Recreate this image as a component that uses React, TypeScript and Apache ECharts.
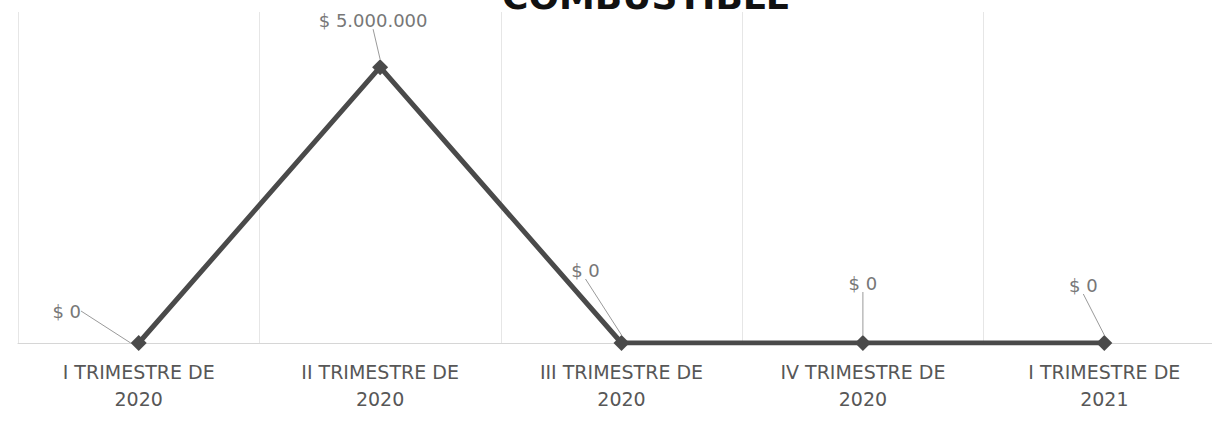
import React, { useEffect, useRef } from "react";
import * as echarts from "echarts";

const categories = [
  "I TRIMESTRE DE\n2020",
  "II TRIMESTRE DE\n2020",
  "III TRIMESTRE DE\n2020",
  "IV TRIMESTRE DE\n2020",
  "I TRIMESTRE DE\n2021",
];
const values = [0, 5000000, 0, 0, 0];
const titleText = "COMBUSTIBLE";

// label offsets (style) relative to default 'top' position
const labelShift = [
  { dx: -72, dy: -10 },
  { dx: -7, dy: -25 },
  { dx: -36, dy: -51 },
  { dx: 0, dy: -38 },
  { dx: -21, dy: -36 },
];

const fmt = (v: number) =>
  "$ " + String(Math.round(v)).replace(/\B(?=(\d{3})+(?!\d))/g, ".");

export default function App() {
  const ref = useRef<HTMLDivElement>(null);
  useEffect(() => {
    if (!ref.current) return;
    const chart = echarts.init(ref.current, undefined, { renderer: "svg" });
    chart.setOption({
      animation: false,
      backgroundColor: "#ffffff",
      title: {
        text: titleText,
        left: 497,
        top: -27,
        textStyle: {
          fontFamily: "DejaVu Sans",
          fontWeight: "bold",
          fontSize: 36,
          color: "#111111",
        },
      },
      grid: { left: 18, top: 12, right: 0, bottom: 85 },
      xAxis: {
        type: "category",
        data: categories,
        boundaryGap: true,
        axisLine: { show: true, lineStyle: { color: "#d6d6d6", width: 1 } },
        axisTick: { show: false },
        splitLine: {
          show: true,
          lineStyle: { color: "#e6e6e6", width: 1 },
        },
        axisLabel: {
          margin: 15,
          color: "#575757",
          fontFamily: "DejaVu Sans",
          fontSize: 19,
          lineHeight: 27,
          interval: 0,
        },
      },
      yAxis: {
        type: "value",
        min: 0,
        max: 6000000,
        show: false,
        splitLine: { show: false },
      },
      series: [
        {
          type: "line",
          data: values,
          symbol: "diamond",
          symbolSize: 16,
          itemStyle: { color: "#4a4a4a" },
          lineStyle: { color: "#4a4a4a", width: 5 },
          label: {
            show: true,
            position: "top",
            formatter: (p: any) => fmt(p.value),
            color: "#777777",
            fontFamily: "DejaVu Sans",
            fontSize: 18,
          },
          labelLine: {
            show: true,
            lineStyle: { color: "#9a9a9a", width: 1 },
          },
          labelLayout: (p: any) => labelShift[p.dataIndex],
        },
      ],
    });
    return () => chart.dispose();
  }, []);
  return (
    <div
      style={{
        position: "absolute",
        left: 0,
        top: 0,
        width: 1212,
        height: 428,
        overflow: "hidden",
      }}
    >
      <div ref={ref} style={{ width: 1225, height: 428 }} />
    </div>
  );
}
